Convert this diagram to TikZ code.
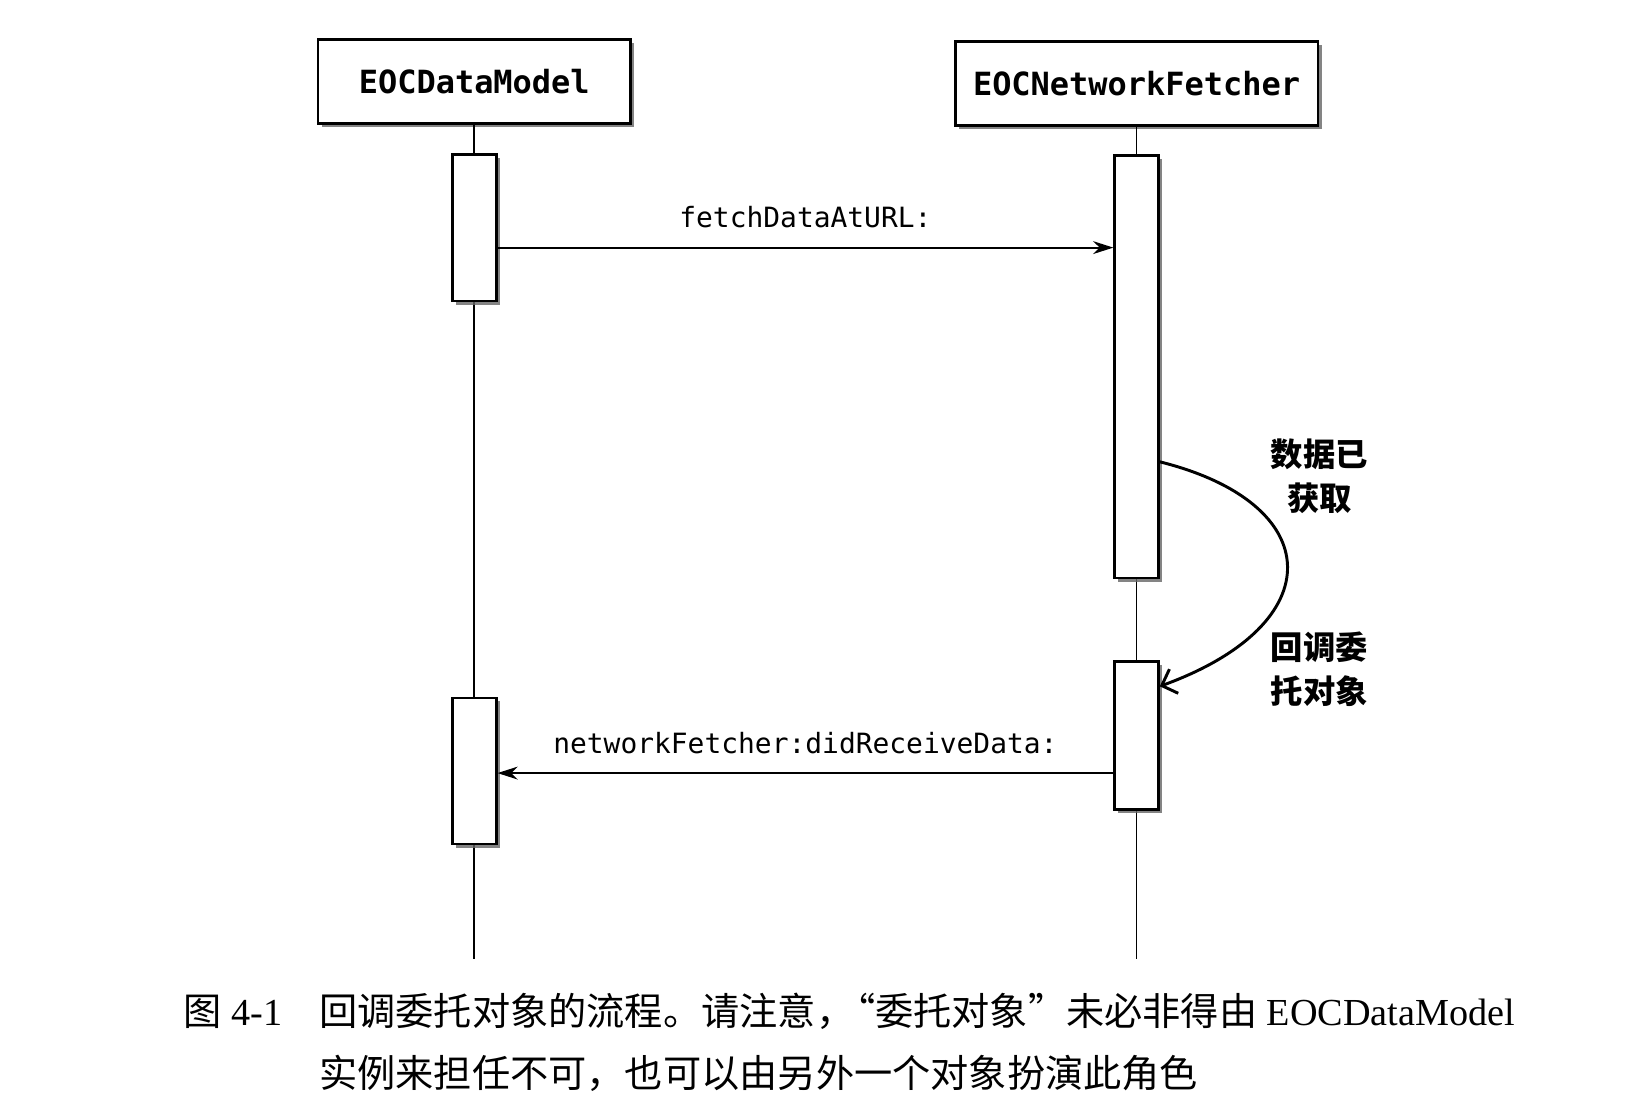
\documentclass[tikz,border=0pt]{standalone}
\usepackage{fontspec}
\setmainfont{Liberation Serif}
\newfontfamily\cjk{Noto Sans CJK SC}
\newfontfamily\codefont{DejaVu Sans Mono}
\usepackage{tikz}
\usetikzlibrary{arrows.meta,shadows}
\tikzset{
  boxshadow/.style={drop shadow={shadow xshift=1pt, shadow yshift=-1pt, fill=black!60, opacity=.8}},
  objbox/.style={draw, line width=0.7pt, fill=white, minimum width=#1, minimum height=0.8cm, inner sep=0pt,
    font=\codefont\bfseries\fontsize{8.7}{10}\selectfont, boxshadow},
  actbox/.style={draw, line width=0.7pt, fill=white, minimum width=0.42cm, minimum height=#1, inner sep=0pt, boxshadow},
  lifeline/.style={line width=0.5pt},
  msg/.style={line width=0.5pt, -{Stealth[length=5.5pt,width=3.5pt]}},
  msglabel/.style={font=\codefont\fontsize{7.6}{9}\selectfont},
  notelabel/.style={font=\cjk\bfseries\fontsize{8.8}{12}\selectfont, align=center},
  captext/.style={font=\fontsize{10.4}{16.8}\selectfont, inner sep=0pt, anchor=base west},
}
\begin{document}
\begin{tikzpicture}[x=0.01cm, y=-0.01cm]
            \path[fill=white, use as bounding box] (0,0) rectangle (1568,1062);
            \node[objbox=2.99cm] (model) at (454,78) {EOCDataModel};
            \node[objbox=3.47cm] (fetcher) at (1088,80) {EOCNetworkFetcher};
            \coordinate (modelend) at (454,918);
            \coordinate (fetcherend) at (1088,918);
            \draw[lifeline] (model.south) -- (modelend);
            \draw[lifeline] (fetcher.south) -- (fetcherend);
            \node[actbox=1.40cm] (modelA) at (454,218) {};
            \node[actbox=1.40cm] (modelB) at (454,738) {};
            \node[actbox=4.04cm] (fetcherA) at (1088,351) {};
            \node[actbox=1.42cm] (fetcherB) at (1088,704) {};
            \draw[msg] ([yshift=-0.19cm]modelA.east) -- node[msglabel, midway, yshift=0.29cm] {fetchDataAtURL:} ([yshift=-0.19cm]modelA.east -| fetcherA.west);
            \draw[msg] ([yshift=-0.36cm]fetcherB.west) -- node[msglabel, midway, yshift=0.29cm] {networkFetcher:didReceiveData:} ([yshift=-0.36cm]fetcherB.west -| modelB.east);
            \draw[line width=0.8pt, -{Straight Barb[length=3.5pt,width=7pt]}] ([yshift=-0.91cm]fetcherA.east) .. controls +(160,40) and +(165,-60) .. ([yshift=0.47cm]fetcherB.east);
            \node[notelabel] (fetched) at (1263,456) {数据已\\获取};
            \node[notelabel] (callback) at (1263,641) {回调委\\托对象};
            \node[captext] (fignum) at (175,982) {{\cjk 图} 4-1};
            \node[captext] (capA) at (305,982) {{\cjk 回调委托对象的流程。请注意，\kern-0.45em“委托对象”未必非得由} EOCDataModel};
            \node[captext] (capB) at (305,1041) {{\cjk 实例来担任不可，也可以由另外一个对象扮演此角色}};
        \end{tikzpicture}
\end{document}
